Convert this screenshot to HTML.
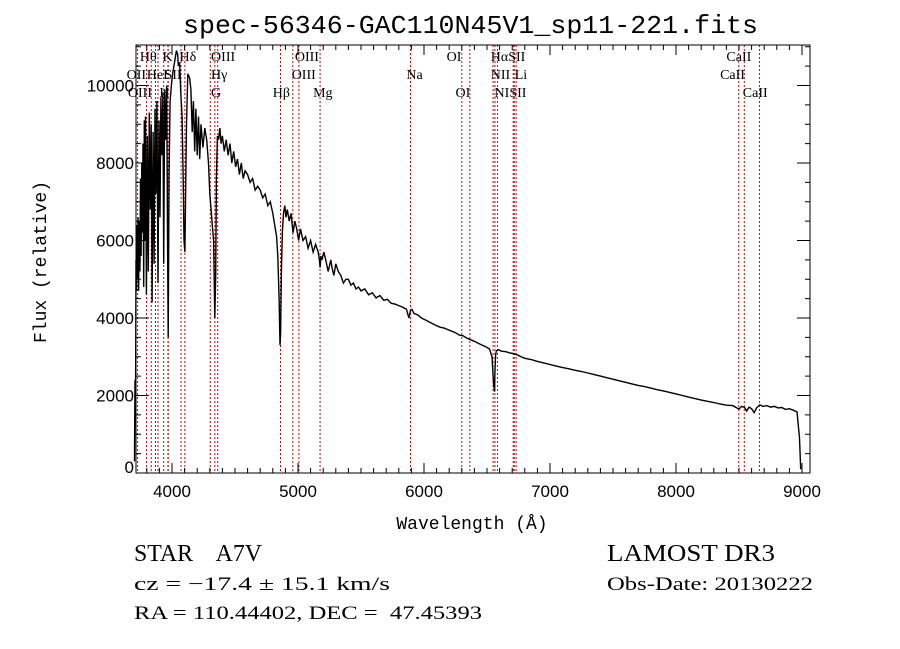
<!DOCTYPE html>
<html><head><meta charset="utf-8"><style>
html,body{margin:0;padding:0;background:#fff;width:900px;height:649px;overflow:hidden}
svg{display:block}
text{font-family:"Liberation Serif",serif;fill:#000;white-space:pre}
</style></head><body>
<svg id="chart" width="900" height="649" viewBox="0 0 900 649">
<text x="183" y="33" textLength="575" lengthAdjust="spacingAndGlyphs" style="font-family:'Liberation Mono',monospace;font-size:26px">spec-56346-GAC110N45V1_sp11-221.fits</text>
<g id="lines"></g>
<g id="spec"></g>
<g id="axes"></g>
<text x="472" y="529" text-anchor="middle" style="font-family:'Liberation Mono',monospace;font-size:18px">Wavelength (Å)</text>
<text transform="translate(46,262) rotate(-90)" text-anchor="middle" style="font-family:'Liberation Mono',monospace;font-size:18px">Flux (relative)</text>
<text x="134" y="561" textLength="128" lengthAdjust="spacingAndGlyphs" style="font-size:24px">STAR    A7V</text>
<text x="134" y="590" textLength="256" lengthAdjust="spacingAndGlyphs" style="font-size:19px">cz = −17.4 ± 15.1 km/s</text>
<text x="134" y="619" textLength="348" lengthAdjust="spacingAndGlyphs" style="font-size:19px">RA = 110.44402, DEC =  47.45393</text>
<text x="607" y="561" textLength="168" lengthAdjust="spacingAndGlyphs" style="font-size:24px">LAMOST DR3</text>
<text x="607" y="590" textLength="206" lengthAdjust="spacingAndGlyphs" style="font-size:19px">Obs-Date: 20130222</text>
</svg>
<script>
const wavelengths=[3702,3706,3710,3714,3718,3722,3726,3730,3735,3740,3745,3750,3755,3760,3765,3770,3775,3780,3785,3790,3797,3805,3812,3820,3828,3835,3842,3850,3858,3865,3872,3880,3889,3897,3905,3912,3920,3928,3934,3942,3950,3958,3964,3970,3977,3985,3995,4005,4015,4025,4035,4045,4050,4060,4070,4080,4090,4095,4102,4108,4115,4125,4140,4150,4160,4170,4180,4190,4200,4210,4220,4230,4245,4260,4275,4290,4300,4310,4320,4330,4340,4347,4352,4360,4370,4380,4390,4400,4415,4430,4445,4460,4475,4490,4505,4520,4535,4550,4565,4580,4600,4620,4640,4660,4680,4700,4720,4740,4760,4780,4800,4815,4830,4840,4850,4857,4862,4868,4875,4885,4895,4905,4915,4930,4945,4960,4975,4990,5005,5020,5040,5060,5080,5100,5120,5140,5160,5170,5175,5182,5190,5205,5220,5240,5260,5270,5285,5300,5320,5340,5360,5380,5400,5420,5440,5460,5480,5500,5530,5560,5590,5620,5650,5680,5710,5740,5770,5800,5830,5860,5880,5893,5905,5920,5950,5980,6010,6040,6070,6100,6130,6160,6190,6220,6250,6280,6310,6340,6370,6400,6430,6460,6490,6520,6540,6552,6560,6563,6568,6575,6590,6620,6650,6680,6710,6740,6770,6800,6850,6900,6950,7000,7050,7100,7150,7200,7250,7300,7350,7400,7450,7500,7550,7600,7650,7700,7750,7800,7850,7900,7950,8000,8050,8100,8150,8200,8250,8300,8350,8400,8450,8500,8520,8545,8560,8580,8600,8620,8640,8665,8690,8720,8750,8780,8810,8840,8870,8900,8930,8960,8980,8990,8995,9000];
const fluxes=[300,2400,1200,5500,4700,6400,5000,6600,4700,6500,5200,7600,5600,8000,6200,8500,4800,9100,6000,9200,4600,8700,5200,9300,6800,9000,4400,8800,5400,9400,7200,9600,4900,9100,6600,9700,8200,9800,5400,9900,8600,10000,6200,3500,7800,9600,10000,10300,10500,10700,10900,10800,10500,10600,9800,9200,7400,6000,5700,7200,9000,10300,10200,9900,8800,9600,8300,9400,8200,9200,8100,9000,8400,8900,8600,8000,7200,6800,6400,6000,4000,5100,7600,8700,8600,8900,8500,8700,8300,8600,8200,8500,8000,8300,7900,8100,7700,8000,7600,7800,7700,7500,7600,7300,7400,7300,7100,7200,6900,7000,6700,6400,6100,5600,4500,3300,3600,5200,6200,6700,6900,6600,6800,6500,6700,6200,6500,6300,6000,6300,6000,6100,5800,6000,5700,5900,5700,5500,5300,5600,5500,5700,5500,5200,5500,5300,5100,5400,5200,5100,4900,5000,5000,4850,4900,4750,4800,4700,4750,4600,4650,4520,4580,4460,4480,4380,4360,4320,4280,4230,4000,4200,4220,4120,4080,4000,3950,3900,3850,3800,3760,3740,3700,3660,3620,3560,3540,3480,3440,3400,3350,3300,3260,3200,3000,2300,2100,2600,3050,3150,3180,3140,3130,3100,3080,3050,3000,2960,2930,2880,2840,2800,2760,2720,2690,2650,2620,2580,2540,2500,2460,2420,2380,2340,2300,2260,2230,2190,2150,2120,2080,2040,2000,1960,1920,1880,1850,1820,1780,1750,1740,1650,1720,1690,1600,1700,1660,1560,1680,1760,1720,1740,1700,1720,1680,1690,1640,1660,1620,1580,900,100];
const lineWaves=[3727,3798,3835,3869,3889,3934,3968,3970,4072,4102,4304,4340,4363,4861,4959,5007,5175,5893,6300,6364,6548,6563,6583,6708,6716,6731,8498,8542,8662];
const labelTexts=["Hθ","K","Hδ","OIII","OIII","OII","HeI","SII","Hγ","OIII","OIII","H","G","Hβ","Mg","Na","OI","HαSII","CaII","NII","Li","CaII","OI","NISII","CaII"];
const labelWaves=[3745,3925,4060,4310,4975,3640,3800,3940,4310,4950,3650,3900,4310,4800,5120,5860,6180,6530,8400,6530,6720,8350,6250,6560,8530];
const labelRows=[0,0,0,0,0,1,1,1,1,1,2,2,2,2,2,1,0,0,0,1,1,1,2,2,2];
const xTickLabels=["4000","5000","6000","7000","8000","9000"];
const yTickLabels=["0","2000","4000","6000","8000","10000"];

const NS="http://www.w3.org/2000/svg";
const L=136,R=810,T=45,B=473;
const x=w=>172+(w-4000)*0.126;
const y=f=>473-f*0.03875;
function mk(tag,attrs,parent){const e=document.createElementNS(NS,tag);for(const k in attrs)e.setAttribute(k,attrs[k]);parent.appendChild(e);return e;}

const lg=document.getElementById('lines');
lineWaves.forEach(w=>{
  const l=mk('line',{x1:x(w),x2:x(w),y1:T,y2:B,stroke:'#cc0000','stroke-width':1,'stroke-dasharray':'2,2'},lg);
  
  
});
const rowY=[61,79,97];
labelTexts.forEach((t,i)=>{
  const e=mk('text',{x:x(labelWaves[i]),y:rowY[labelRows[i]],'font-size':14},lg);
  e.textContent=t;
  
  
});

const sg=document.getElementById('spec');
let d='';
wavelengths.forEach((w,i)=>{d+=(i?'L':'M')+x(w).toFixed(1)+','+y(fluxes[i]).toFixed(1);});
const p=mk('path',{d:d,fill:'none',stroke:'#000','stroke-width':1.4},sg);



const ax=document.getElementById('axes');
const fr=mk('rect',{x:L,y:T,width:R-L,height:B-T,fill:'none',stroke:'#000','stroke-width':1},ax);


for(let w=3800;w<=9000;w+=100){
  const major=w%1000===0,len=major?10:5;
  mk('line',{x1:x(w),x2:x(w),y1:B,y2:B-len,stroke:'#000'},ax);
  mk('line',{x1:x(w),x2:x(w),y1:T,y2:T+len,stroke:'#000'},ax);
}
xTickLabels.forEach(s=>{
  const e=mk('text',{x:x(+s),y:B+24,'text-anchor':'middle',style:"font-family:'Liberation Sans',sans-serif;font-size:17px"},ax);
  e.textContent=s;
  
  
});
for(let f=0;f<=11000;f+=500){
  const major=f%2000===0,len=major?13:5;
  mk('line',{x1:L,x2:L+len,y1:y(f),y2:y(f),stroke:'#000'},ax);
  mk('line',{x1:R,x2:R-len,y1:y(f),y2:y(f),stroke:'#000'},ax);
}
yTickLabels.forEach(s=>{
  const e=mk('text',{x:L-2,y:y(+s)+(+s===0?0:6),'text-anchor':'end',style:"font-family:'Liberation Sans',sans-serif;font-size:17px"},ax);
  e.textContent=s;
  
  
});
</script>
</body></html>
